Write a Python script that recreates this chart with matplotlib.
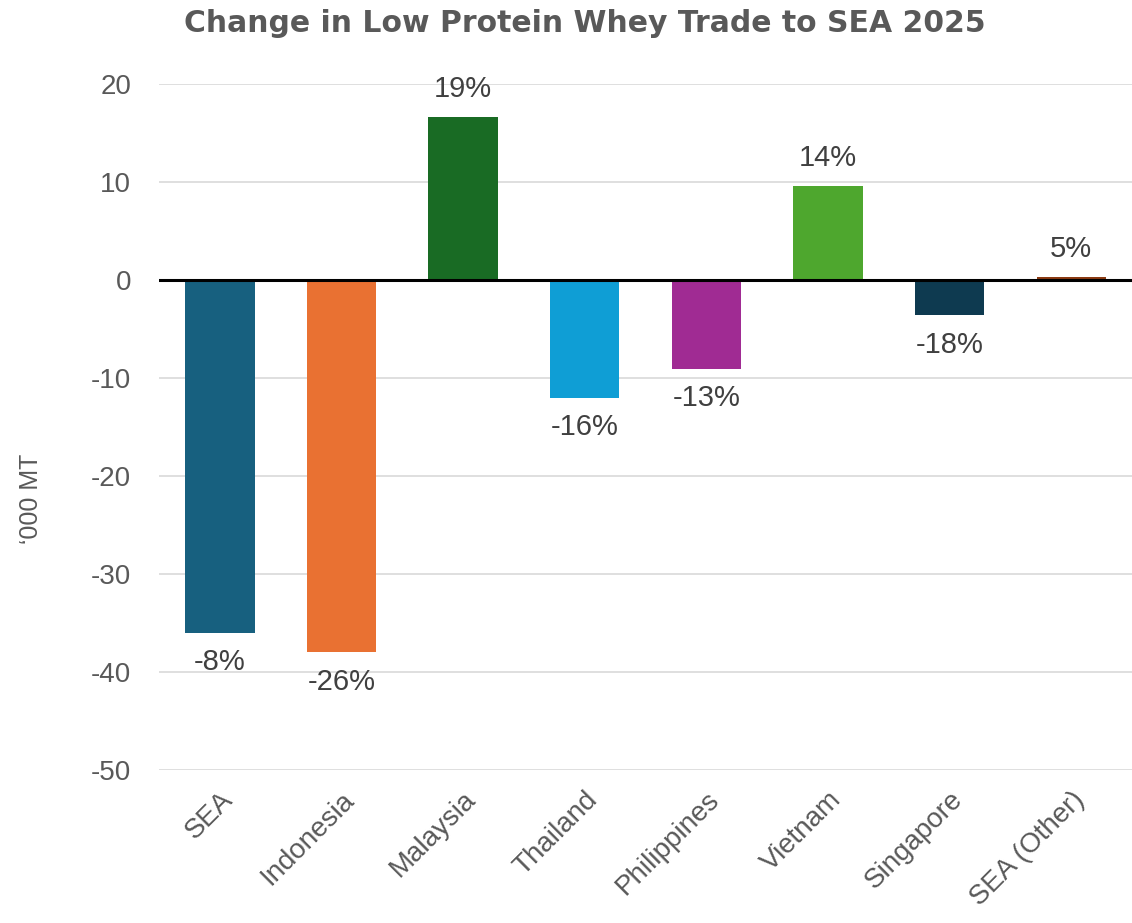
import matplotlib.pyplot as plt
import numpy as np

countries = ['SEA', 'Indonesia', 'Malaysia', 'Thailand', 'Philippines', 'Vietnam', 'Singapore', 'SEA (Other)']
change_kmt = [-36.0, -38.0, 16.6, -12.0, -9.1, 9.6, -3.6, 0.3]
pct_labels = ['-8%', '-26%', '19%', '-16%', '-13%', '14%', '-18%', '5%']
colors = ['#17607F', '#E97132', '#196B24', '#0F9ED5', '#A02B93', '#4EA72E', '#0E3A50', '#8B3A12']

grey = '#595959'
plt.rcParams['font.family'] = ['Liberation Sans', 'DejaVu Sans']
plt.rcParams['axes.unicode_minus'] = False

fig = plt.figure(figsize=(11.32, 9.23), dpi=100)
ax = fig.add_axes([0.1405, 0.1658, 0.8595, 0.7432])

x = np.arange(len(countries))
bars = ax.bar(x, change_kmt, width=0.57, color=colors, zorder=3)

for b, v, lab in zip(bars, change_kmt, pct_labels):
    cx = b.get_x() + b.get_width() / 2
    if v >= 0:
        ax.annotate(lab, (cx, v), xytext=(0, 10), textcoords='offset points',
                    ha='center', va='bottom', fontsize=21, color='#404040')
    else:
        ax.annotate(lab, (cx, v), xytext=(0, -11), textcoords='offset points',
                    ha='center', va='top', fontsize=21, color='#404040')

ax.set_xlim(-0.5, len(countries) - 0.5)
ax.set_ylim(-50, 20)
ax.set_yticks(range(-50, 21, 10))
ax.grid(axis='y', color='#D9D9D9', linewidth=1.2, zorder=0)
ax.axhline(0, color='black', linewidth=2.2, zorder=4)

for s in ax.spines.values():
    s.set_visible(False)
ax.tick_params(axis='y', length=0, labelsize=20, labelcolor=grey, pad=20)
ax.tick_params(axis='x', length=0, labelsize=20, labelcolor=grey, pad=12)
ax.set_xticks(x)
ax.set_xticklabels(countries, rotation=45, ha='right', rotation_mode='anchor')

ax.set_ylabel('\u2018000 MT', fontsize=18, color=grey)
ax.yaxis.set_label_coords(-0.119, 0.395)
fig.suptitle('Change in Low Protein Whey Trade to SEA 2025', fontsize=21.5, fontweight='bold',
             color=grey, y=0.99, x=0.517, family='DejaVu Sans')

plt.savefig('out.png', dpi=100)
